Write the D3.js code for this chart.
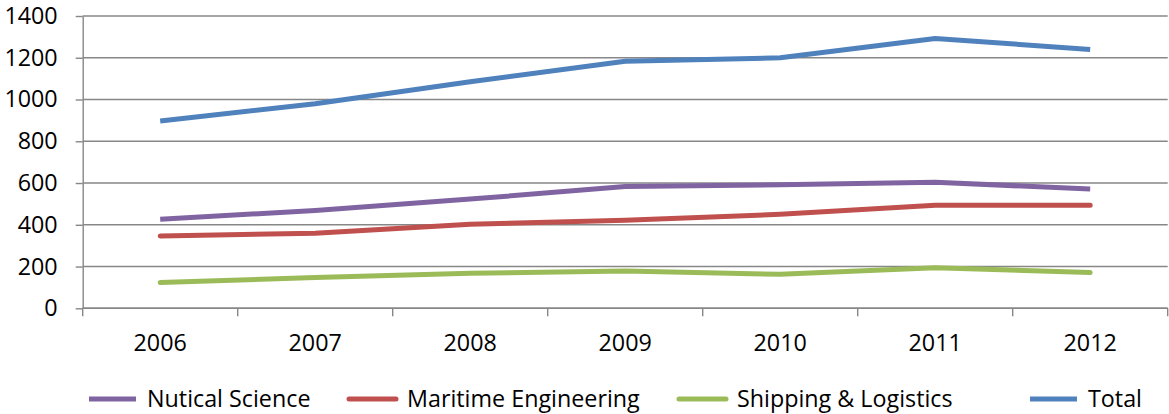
<!DOCTYPE html>
<html>
<head>
<meta charset="utf-8">
<script src="https://cdn.jsdelivr.net/npm/d3@7"></script>
<style>
  html, body { margin: 0; padding: 0; background: #fff; }
  svg { display: block; }
  text { font-family: "Open Sans", "Noto Sans", sans-serif; fill: #000; }
</style>
</head>
<body>
<svg id="chart" width="1169" height="414"></svg>
<script>
// Student intake by programme, 2006–2012
const years = ["2006", "2007", "2008", "2009", "2010", "2011", "2012"];
const nauticalScience = [427, 468, 523, 583, 592, 604, 571];
const maritimeEngineering = [346, 360, 402, 422, 450, 494, 494];
const shippingLogistics = [123, 147, 168, 179, 163, 194, 171];
const total = [897, 980, 1085, 1183, 1200, 1292, 1240];
const yTicks = [0, 200, 400, 600, 800, 1000, 1200, 1400];

const series = [
  { name: "Nutical Science", values: nauticalScience, color: "#8064A2", cap: "butt" },
  { name: "Maritime Engineering", values: maritimeEngineering, color: "#C0504D", cap: "round" },
  { name: "Shipping & Logistics", values: shippingLogistics, color: "#9BBB59", cap: "round" },
  { name: "Total", values: total, color: "#4F81BD", cap: "butt" }
];

const svg = d3.select("#chart");
const plotLeft = 82.7, plotRight = 1167.7, plotTop = 16, plotBottom = 308.3;
const gridColor = "#878787";
const fontSize = "23.3px";

const x = d3.scaleBand().domain(years).range([plotLeft, plotRight]);
const y = d3.scaleLinear().domain([0, 1400]).range([plotBottom, plotTop]);

// horizontal gridlines
svg.append("g")
  .selectAll("line")
  .data(yTicks)
  .join("line")
  .attr("x1", plotLeft).attr("x2", plotRight)
  .attr("y1", d => y(d)).attr("y2", d => y(d))
  .attr("stroke", gridColor).attr("stroke-width", 1.4);

// value axis
const yAxis = svg.append("g")
  .attr("transform", `translate(${plotLeft},0)`)
  .call(d3.axisLeft(y).tickValues(yTicks).tickFormat(d3.format("d"))
    .tickSize(7).tickSizeOuter(0).tickPadding(18));
yAxis.select(".domain").attr("stroke", gridColor).attr("stroke-width", 1.4);
yAxis.selectAll(".tick line").attr("stroke", gridColor).attr("stroke-width", 1.4);
yAxis.selectAll(".tick text")
  .attr("font-size", fontSize)
  .attr("font-family", "'Open Sans', sans-serif")
  .attr("fill", "#000");

// category axis: tick marks on band boundaries
const xAxisG = svg.append("g").attr("transform", `translate(0,${plotBottom})`);
xAxisG.append("line")
  .attr("x1", plotLeft).attr("x2", plotRight)
  .attr("stroke", gridColor).attr("stroke-width", 1.4);
const boundaries = years.map(d => x(d)).concat([x(years[years.length - 1]) + x.bandwidth()]);
xAxisG.selectAll("line.tk")
  .data(boundaries)
  .join("line")
  .attr("class", "tk")
  .attr("x1", d => d).attr("x2", d => d)
  .attr("y1", 0).attr("y2", 8)
  .attr("stroke", gridColor).attr("stroke-width", 1.4);
xAxisG.selectAll("text")
  .data(years)
  .join("text")
  .attr("x", d => x(d) + x.bandwidth() / 2)
  .attr("y", 35)
  .attr("dy", "0.35em")
  .attr("text-anchor", "middle")
  .attr("font-size", fontSize)
  .text(d => d);

// series lines
const line = d3.line()
  .x((d, i) => x(years[i]) + x.bandwidth() / 2)
  .y(d => y(d));

svg.append("g")
  .selectAll("path")
  .data(series)
  .join("path")
  .attr("d", s => line(s.values))
  .attr("fill", "none")
  .attr("stroke", s => s.color)
  .attr("stroke-width", 5)
  .attr("stroke-linecap", s => s.cap)
  .attr("stroke-linejoin", "round");

// legend
const legendX = [89, 349, 679, 1030];
const legendY = 399;
const legend = svg.append("g")
  .selectAll("g")
  .data(series)
  .join("g")
  .attr("transform", (s, i) => `translate(${legendX[i]},${legendY})`);
legend.append("line")
  .attr("x1", 0).attr("x2", 47)
  .attr("y1", 0).attr("y2", 0)
  .attr("stroke", s => s.color)
  .attr("stroke-width", 5)
  .attr("stroke-linecap", s => s.cap);
legend.append("text")
  .attr("x", 58)
  .attr("y", 0)
  .attr("dy", "0.33em")
  .attr("font-size", fontSize)
  .text(s => s.name);
</script>
</body>
</html>
